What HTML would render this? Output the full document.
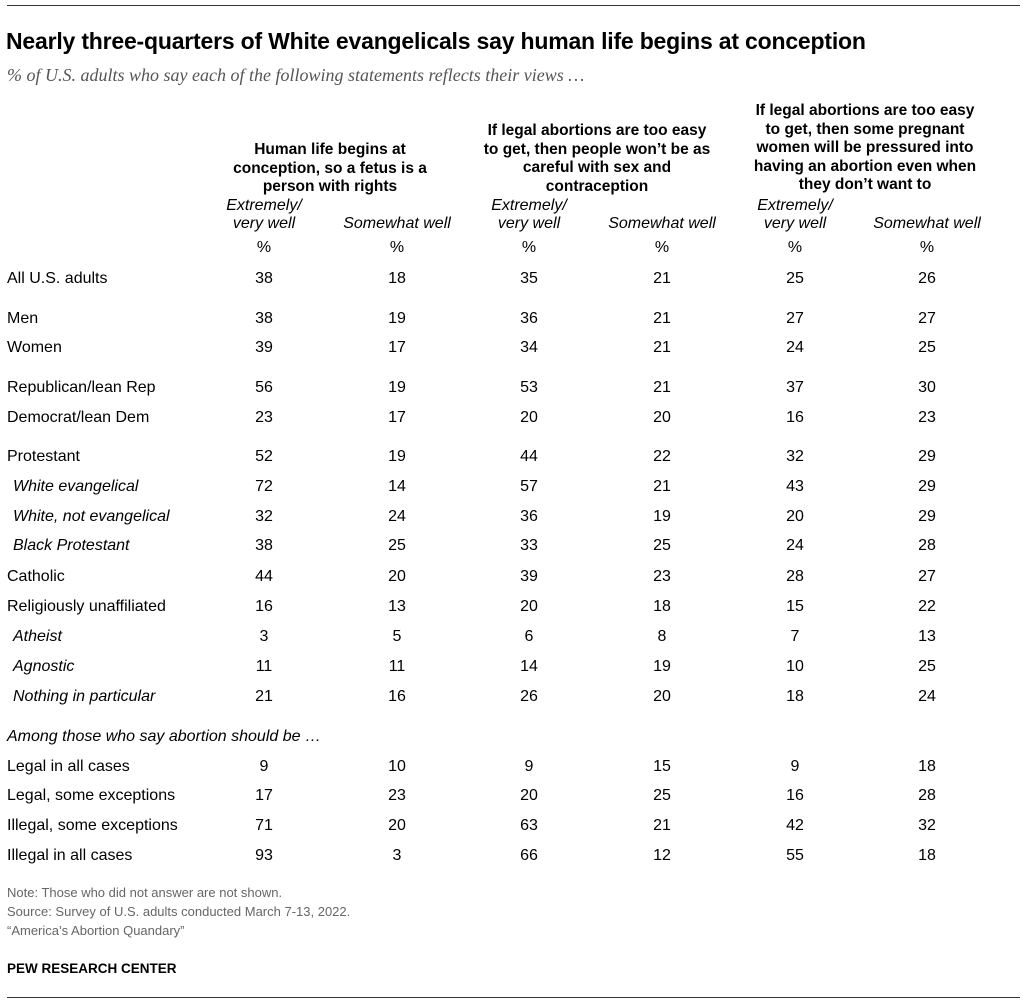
<!DOCTYPE html>
<html><head><meta charset="utf-8">
<style>
body{margin:0;width:1023px;height:1004px;background:#fff;position:relative;overflow:hidden;font-family:"Liberation Sans",Arial,sans-serif;color:#000}
.a{position:absolute;white-space:nowrap}
.t{font-size:16px;line-height:18px}
.c{transform:translateX(-50%);text-align:center}
.h{font-weight:bold;font-size:15.5px;line-height:18.5px;text-align:center;transform:translateX(-50%)}
.i{font-style:italic}
.n{font-size:13px;color:#666}
</style></head><body>
<div class="a" style="left:7px;top:5px;width:1013px;height:1px;background:#333"></div>
<div class="a" style="left:6px;top:28px;font-size:23px;font-weight:bold;letter-spacing:-0.2px">Nearly three-quarters of White evangelicals say human life begins at conception</div>
<div class="a i" style="left:7px;top:65px;font-family:'Liberation Serif',serif;font-size:18px;color:#555">% of U.S. adults who say each of the following statements reflects their views …</div>
<div class="a h" style="left:330px;top:141px">Human life begins at<br>conception, so a fetus is a<br>person with rights</div>
<div class="a h" style="left:597px;top:122px">If legal abortions are too easy<br>to get, then people won’t be as<br>careful with sex and<br>contraception</div>
<div class="a h" style="left:865px;top:102px">If legal abortions are too easy<br>to get, then some pregnant<br>women will be pressured into<br>having an abortion even when<br>they don’t want to</div>
<div id="tbl"></div>
<div class="a n" style="left:7px;top:885px">Note: Those who did not answer are not shown.</div>
<div class="a n" style="left:7px;top:904px">Source: Survey of U.S. adults conducted March 7-13, 2022.</div>
<div class="a n" style="left:7px;top:923px">“America’s Abortion Quandary”</div>
<div class="a" style="left:7px;top:961px;font-size:13.5px;font-weight:bold">PEW RESEARCH CENTER</div>
<div class="a" style="left:7px;top:997px;width:1013px;height:1px;background:#333"></div>
<script>
const labels=["All U.S. adults","Men","Women","Republican/lean Rep","Democrat/lean Dem","Protestant","White evangelical","White, not evangelical","Black Protestant","Catholic","Religiously unaffiliated","Atheist","Agnostic","Nothing in particular","Legal in all cases","Legal, some exceptions","Illegal, some exceptions","Illegal in all cases"];
const italicRows=[6,7,8,11,12,13];
const rowY=[279,319,348,388,418,457,487,517,546,577,607,637,667,697,767,796,826,856];
const values=[
[38,18,35,21,25,26],[38,19,36,21,27,27],[39,17,34,21,24,25],[56,19,53,21,37,30],[23,17,20,20,16,23],
[52,19,44,22,32,29],[72,14,57,21,43,29],[32,24,36,19,20,29],[38,25,33,25,24,28],[44,20,39,23,28,27],
[16,13,20,18,15,22],[3,5,6,8,7,13],[11,11,14,19,10,25],[21,16,26,20,18,24],
[9,10,9,15,9,18],[17,23,20,25,16,28],[71,20,63,21,42,32],[93,3,66,12,55,18]];
const colX=[264,397,529,662,795,927];
const T=document.getElementById('tbl');
function add(txt,x,y,cls){const d=document.createElement('div');d.className='a t '+cls;d.style.left=x+'px';d.style.top=(y-9)+'px';d.innerHTML=txt;T.appendChild(d);return d;}
colX.forEach((x,j)=>{
 if(j%2==0){const e=add('Extremely/<br>very well',x,206,'c i');
 
 }
 else{const e=add('Somewhat well',x,224,'c i');
 
 }
 const p=add('%',x,248,'c');
 
 
});
const am=add('Among those who say abortion should be …',7,737,'i');


labels.forEach((l,i)=>{
 const it=italicRows.includes(i);
 const e=add(l,it?13:7,rowY[i],it?'i':'');
 
 
 values[i].forEach((v,j)=>{
  const c=add(v,colX[j],rowY[i],'c');
  
  
 });
});
</script>
</body></html>
